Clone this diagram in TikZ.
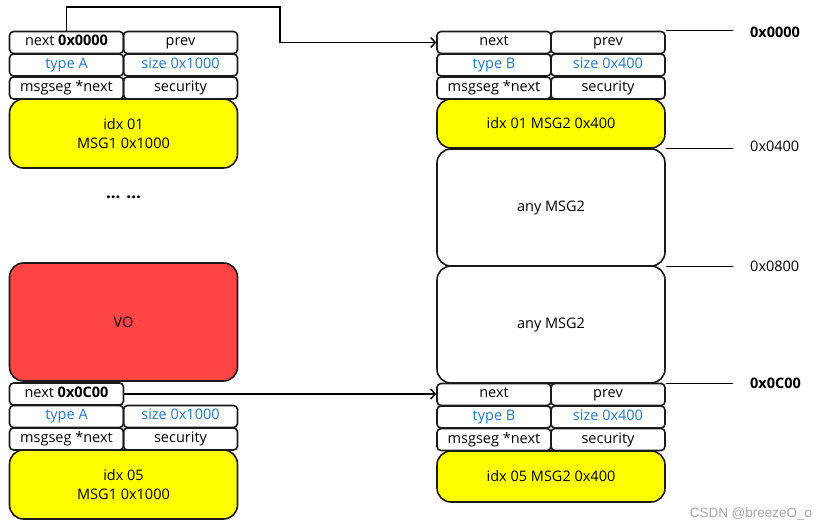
\documentclass[tikz,border=0pt]{standalone}
\usepackage{fontspec}
\setmainfont{Open Sans}
\newfontfamily\wmfont{Liberation Sans}
\usetikzlibrary{arrows.meta}
\definecolor{boxline}{HTML}{1A1A1A}
\definecolor{fieldblue}{HTML}{1F77C8}
\definecolor{msgyellow}{HTML}{FFFF00}
\definecolor{vored}{HTML}{FF4444}
\definecolor{wmgray}{HTML}{A6A6A6}
\tikzset{
  cell/.style={draw=boxline, line width=1.6pt, rounded corners=4pt, inner sep=0pt,
    minimum width=114pt, minimum height=22pt, text height=10.5pt, text depth=3.5pt,
    font=\fontsize{14.5}{16}\selectfont},
  bluecell/.style={cell, text=fieldblue},
  bigbox/.style={draw=boxline, line width=1.6pt, rounded corners=14pt, inner sep=0pt,
    minimum width=228pt, align=center, font=\fontsize{14.5}{19}\selectfont},
  yellowbox/.style={bigbox, fill=msgyellow},
  addr/.style={anchor=west, inner sep=0pt, font=\fontsize{14.5}{16}\selectfont},
  link/.style={line width=1.4pt, draw=black},
  arr/.style={link, -{Straight Barb[length=4.5pt,width=10pt]}},
}
\begin{document}
\begin{tikzpicture}[x=1pt,y=-1pt]
\useasboundingbox (0,0) rectangle (828,529);
% left top block
\node[cell] (n1a) at (66.5,42.5) {next \textbf{0x0000}};
\node[cell] (n1b) at (180.5,42.5) {prev};
\node[bluecell] (t1a) at (66.5,65) {type A};
\node[bluecell] (t1b) at (180.5,65) {size 0x1000};
\node[cell] (m1a) at (66.5,88) {msgseg *next};
\node[cell] (m1b) at (180.5,88) {security};
\node[yellowbox, minimum height=69pt] (d1) at (123.5,133.5) {idx 01\\MSG1 0x1000};
\node[font=\fontsize{17}{18}\selectfont\bfseries] (dots) at (123.5,197) {... ...};
\node[bigbox, fill=vored, minimum height=118pt] (vo) at (123.5,322) {VO};
% left bottom block
\node[cell] (n5a) at (66.5,394) {next \textbf{0x0C00}};
\node[bluecell] (t5a) at (66.5,416.5) {type A};
\node[bluecell] (t5b) at (180.5,416.5) {size 0x1000};
\node[cell] (m5a) at (66.5,439) {msgseg *next};
\node[cell] (m5b) at (180.5,439) {security};
\node[yellowbox, minimum height=69pt] (d5) at (123.5,484.5) {idx 05\\MSG1 0x1000};
% right column
\node[cell] (n2a) at (494,42.5) {next};
\node[cell] (n2b) at (608,42.5) {prev};
\node[bluecell] (t2a) at (494,65) {type B};
\node[bluecell] (t2b) at (608,65) {size 0x400};
\node[cell] (m2a) at (494,88) {msgseg *next};
\node[cell] (m2b) at (608,88) {security};
\node[yellowbox, minimum height=49pt] (d2) at (551,123.5) {idx 01 MSG2 0x400};
\node[bigbox, minimum height=117pt] (any1) at (551,207.5) {any MSG2};
\node[bigbox, minimum height=117pt] (any2) at (551,324.5) {any MSG2};
\node[cell] (n6a) at (494,394.5) {next};
\node[cell] (n6b) at (608,394.5) {prev};
\node[bluecell] (t6a) at (494,417) {type B};
\node[bluecell] (t6b) at (608,417) {size 0x400};
\node[cell] (m6a) at (494,439.5) {msgseg *next};
\node[cell] (m6b) at (608,439.5) {security};
\node[yellowbox, minimum height=51pt] (d6) at (551,476.5) {idx 05 MSG2 0x400};
% address labels
\node[addr, font=\fontsize{14.5}{16}\selectfont\bfseries] (l0) at (750,32) {0x0000};
\node[addr] (l4) at (750,146) {0x0400};
\node[addr] (l8) at (750,266) {0x0800};
\node[addr, font=\fontsize{14.5}{16}\selectfont\bfseries] (lc) at (750,383) {0x0C00};
\draw[link, shorten >=17pt] (n2b.north east) -- (n2b.north east -| l0.west);
\draw[link, shorten >=17pt] (d2.south east) -- (d2.south east -| l4.west);
\draw[link, shorten >=17pt] (any1.south east) -- (any1.south east -| l8.west);
\draw[link, shorten >=17pt] (any2.south east) -- (any2.south east -| lc.west);
% pointers
\coordinate (c1) at (280,7);
\draw[arr] (n1a.north) |- (c1) |- (n2a.west);
\draw[arr] (n5a.east) -- (n5a.east -| n6a.west);
% watermark
\node[text=wmgray, font=\wmfont\fontsize{13.5}{15}\selectfont] (wm) at (751,514) {CSDN @breezeO\_o};
\end{tikzpicture}
\end{document}
